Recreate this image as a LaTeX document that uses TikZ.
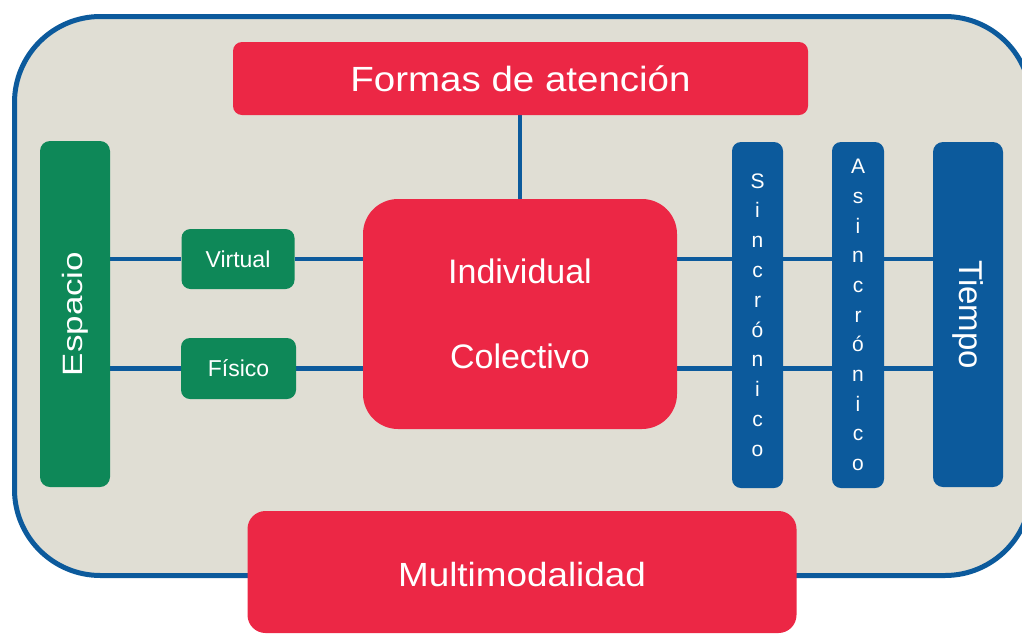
\documentclass[tikz,border=0pt]{standalone}
\usepackage{fontspec}
\setmainfont{Liberation Sans}
\usetikzlibrary{calc}
\definecolor{cred}{HTML}{EC2745}
\definecolor{cgreen}{HTML}{0E8858}
\definecolor{cblue}{HTML}{0C5A9C}
\definecolor{cbeige}{HTML}{E0DED4}
\pgfdeclarelayer{bgzero}
\pgfdeclarelayer{linelayer}
\pgfsetlayers{bgzero,linelayer,main}
\tikzset{
  box/.style={rectangle, text=white, inner sep=0pt, align=center},
  redbox/.style={box, fill=cred},
  greenbox/.style={box, fill=cgreen},
  bluebox/.style={box, fill=cblue},
  conn/.style={draw=cblue, line width=4.5pt},
}
\begin{document}
\begin{tikzpicture}[x=1pt,y=-1pt]
\useasboundingbox (0,0) rectangle (1022,635);
\clip (0,0) rectangle (1022,635);
\begin{pgfonlayer}{bgzero}
\draw[draw=cblue, fill=cbeige, line width=5pt, rounded corners=86pt] (14.5,16.5) rectangle (1031,575.5);
\end{pgfonlayer}

\node[redbox, minimum width=575pt, minimum height=73pt, rounded corners=9pt,
  font={\fontsize{35}{40}\selectfont}] (formas) at (520.5,78.5)
  {\scalebox{1.1}[1]{Formas de atención}};
\node[redbox, minimum width=314pt, minimum height=230pt, rounded corners=35pt,
  font={\fontsize{34}{85}\selectfont}] (center) at (520,314)
  {Individual\\Colectivo};
\node[greenbox, minimum width=70pt, minimum height=346pt, rounded corners=10pt] (espacio) at (75,314) {};
\node[rotate=90, text=white, inner sep=0pt, font={\fontsize{28}{32}\selectfont}] (espaciotxt) at (espacio.center)
  {\scalebox{1.25}[1]{Espacio}};
\node[greenbox, minimum width=113pt, minimum height=60pt, rounded corners=9pt,
  font={\fontsize{23}{26}\selectfont}] (virtual) at (238,259) {Virtual};
\node[greenbox, minimum width=115pt, minimum height=61pt, rounded corners=9pt,
  font={\fontsize{23}{26}\selectfont}] (fisico) at (238.5,368.5) {Físico};
\node[bluebox, minimum width=51pt, minimum height=346pt, rounded corners=9pt,
  font={\fontsize{21}{29.8}\selectfont}] (sinc) at (757.5,315)
  {S\\i\\n\\c\\r\\ó\\n\\i\\c\\o};
\node[bluebox, minimum width=52pt, minimum height=346pt, rounded corners=9pt,
  font={\fontsize{21}{29.7}\selectfont}] (asinc) at (858,315)
  {A\\s\\i\\n\\c\\r\\ó\\n\\i\\c\\o};
\node[bluebox, minimum width=70pt, minimum height=345pt, rounded corners=10pt] (tiempo) at (968,314.5) {};
\node[rotate=-90, text=white, inner sep=0pt, font={\fontsize{33}{36}\selectfont}] (tiempotxt) at (tiempo.center)
  {Tiempo};
\node[redbox, minimum width=549pt, minimum height=122pt, rounded corners=18pt] (multi) at (522,572) {};
\node[text=white, inner sep=0pt, font={\fontsize{33.5}{38}\selectfont}] (multitxt) at ($(multi.center)+(0,3)$)
  {\scalebox{1.1}[1]{Multimodalidad}};

\begin{pgfonlayer}{linelayer}
\draw[conn] (center.north |- formas.south) -- (center.north);
\draw[conn] (virtual.west -| espacio.east) -- (virtual.west);
\draw[conn] (virtual.east) -- (virtual.east -| center.west);
\draw[conn] (fisico.west -| espacio.east) -- (fisico.west);
\draw[conn] (fisico.east) -- (fisico.east -| center.west);
\draw[conn] (virtual.east -| center.east) -- (virtual.east -| tiempo.west);
\draw[conn] (fisico.east -| center.east) -- (fisico.east -| tiempo.west);
\end{pgfonlayer}
\end{tikzpicture}
\end{document}
